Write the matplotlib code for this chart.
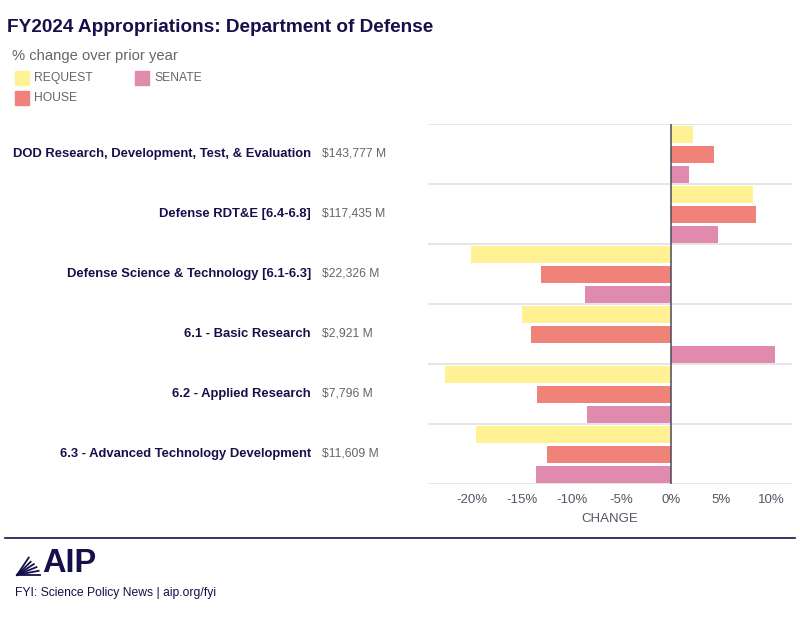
import matplotlib
matplotlib.use("Agg")
import matplotlib.pyplot as plt
import numpy as np

plt.rcParams['font.family'] = ['Liberation Sans', 'DejaVu Sans']

categories = [
    "DOD Research, Development, Test, & Evaluation",
    "Defense RDT&E [6.4-6.8]",
    "Defense Science & Technology [6.1-6.3]",
    "6.1 - Basic Research",
    "6.2 - Applied Research",
    "6.3 - Advanced Technology Development",
]
amounts = ["$143,777 M", "$117,435 M", "$22,326 M", "$2,921 M", "$7,796 M", "$11,609 M"]
request = [2.2, 8.2, -20.1, -15.0, -22.7, -19.6]
house = [4.3, 8.5, -13.1, -14.1, -13.5, -12.5]
senate = [1.8, 4.7, -8.7, 10.4, -8.5, -13.6]
series_names = ["REQUEST", "HOUSE", "SENATE"]
tick_values = [-20, -15, -10, -5, 0, 5, 10]

colors = {"REQUEST": "#FFF194", "HOUSE": "#EF8379", "SENATE": "#E08AAD"}
NAVY = "#16104A"
GRAY = "#666666"

W, H = 800, 625
fig = plt.figure(figsize=(W / 100, H / 100), dpi=100)


def fx(x):
    return x / W


def fy(y):
    return 1 - y / H


# axes
ax_l, ax_r, ax_t, ax_b = 428, 792, 124, 484
ax = fig.add_axes([fx(ax_l), fy(ax_b), (ax_r - ax_l) / W, (ax_b - ax_t) / H])
n = len(categories)
idx = np.arange(n)
offsets = [0.175, 0.508, 0.842]
bh = 0.283
for s, vals, off in zip(series_names, [request, house, senate], offsets):
    ax.barh(idx + off, vals, height=bh, color=colors[s], edgecolor='none', zorder=2)

ax.set_ylim(n, 0)
ax.set_xlim(-24.4, 12.1)
for g in range(n + 1):
    ax.axhline(g, color="#E2E2E2", lw=1.2, zorder=1)
ax.axvline(0, color="#4A4A5A", lw=1.1, zorder=3)
for sp in ax.spines.values():
    sp.set_visible(False)
ax.set_yticks([])
ax.set_xticks(tick_values)
ax.set_xticklabels([f"{v}%" for v in tick_values], color="#555566", fontsize=9.5)
ax.tick_params(axis='x', length=0, pad=7)
ax.set_xlabel("CHANGE", color="#555566", fontsize=9.5, labelpad=5)

# category labels
for i, (c, a) in enumerate(zip(categories, amounts)):
    yc = ax_t + 60 * i + 30
    fig.text(fx(311), fy(yc), c, ha='right', va='center', fontsize=9.35,
             fontweight='bold', color=NAVY)
    fig.text(fx(322), fy(yc), a, ha='left', va='center', fontsize=8.7, color=GRAY)

# title and subtitle
fig.text(fx(7), fy(27), "FY2024 Appropriations: Department of Defense", ha='left',
         va='center', fontsize=13.7, fontweight='bold', color=NAVY)
fig.text(fx(12), fy(56), "% change over prior year", ha='left', va='center',
         fontsize=10.6, color=GRAY)

# legend
leg_pos = {"REQUEST": (15, 71), "HOUSE": (15, 91), "SENATE": (135, 71)}
for s in series_names:
    x0, y0 = leg_pos[s]
    fig.patches.append(plt.Rectangle((fx(x0), fy(y0 + 14)), 14 / W, 14 / H,
                                     transform=fig.transFigure, color=colors[s]))
    fig.text(fx(x0 + 19), fy(y0 + 7), s, ha='left', va='center', fontsize=8.7,
             color=GRAY)

# footer
fig.add_artist(plt.Line2D([fx(5), fx(795)], [fy(538), fy(538)],
                          transform=fig.transFigure, color=NAVY, lw=1.2))
ox, oy = 17, 575
for ang, ln in zip([0, 11, 22, 33, 44, 56], [23, 22, 21, 20, 19, 21]):
    a = np.deg2rad(ang)
    fig.add_artist(plt.Line2D([fx(ox), fx(ox + ln * np.cos(a))],
                              [fy(oy), fy(oy - ln * np.sin(a))],
                              transform=fig.transFigure, color=NAVY, lw=1.3))
fig.text(fx(42), fy(564), "AIP", ha='left', va='center', fontsize=23.5,
         fontweight='bold', color=NAVY)
fig.text(fx(15), fy(593), "FYI: Science Policy News | aip.org/fyi", ha='left',
         va='center', fontsize=8.7, color=NAVY)

fig.savefig("out.png", dpi=100, facecolor='white')
